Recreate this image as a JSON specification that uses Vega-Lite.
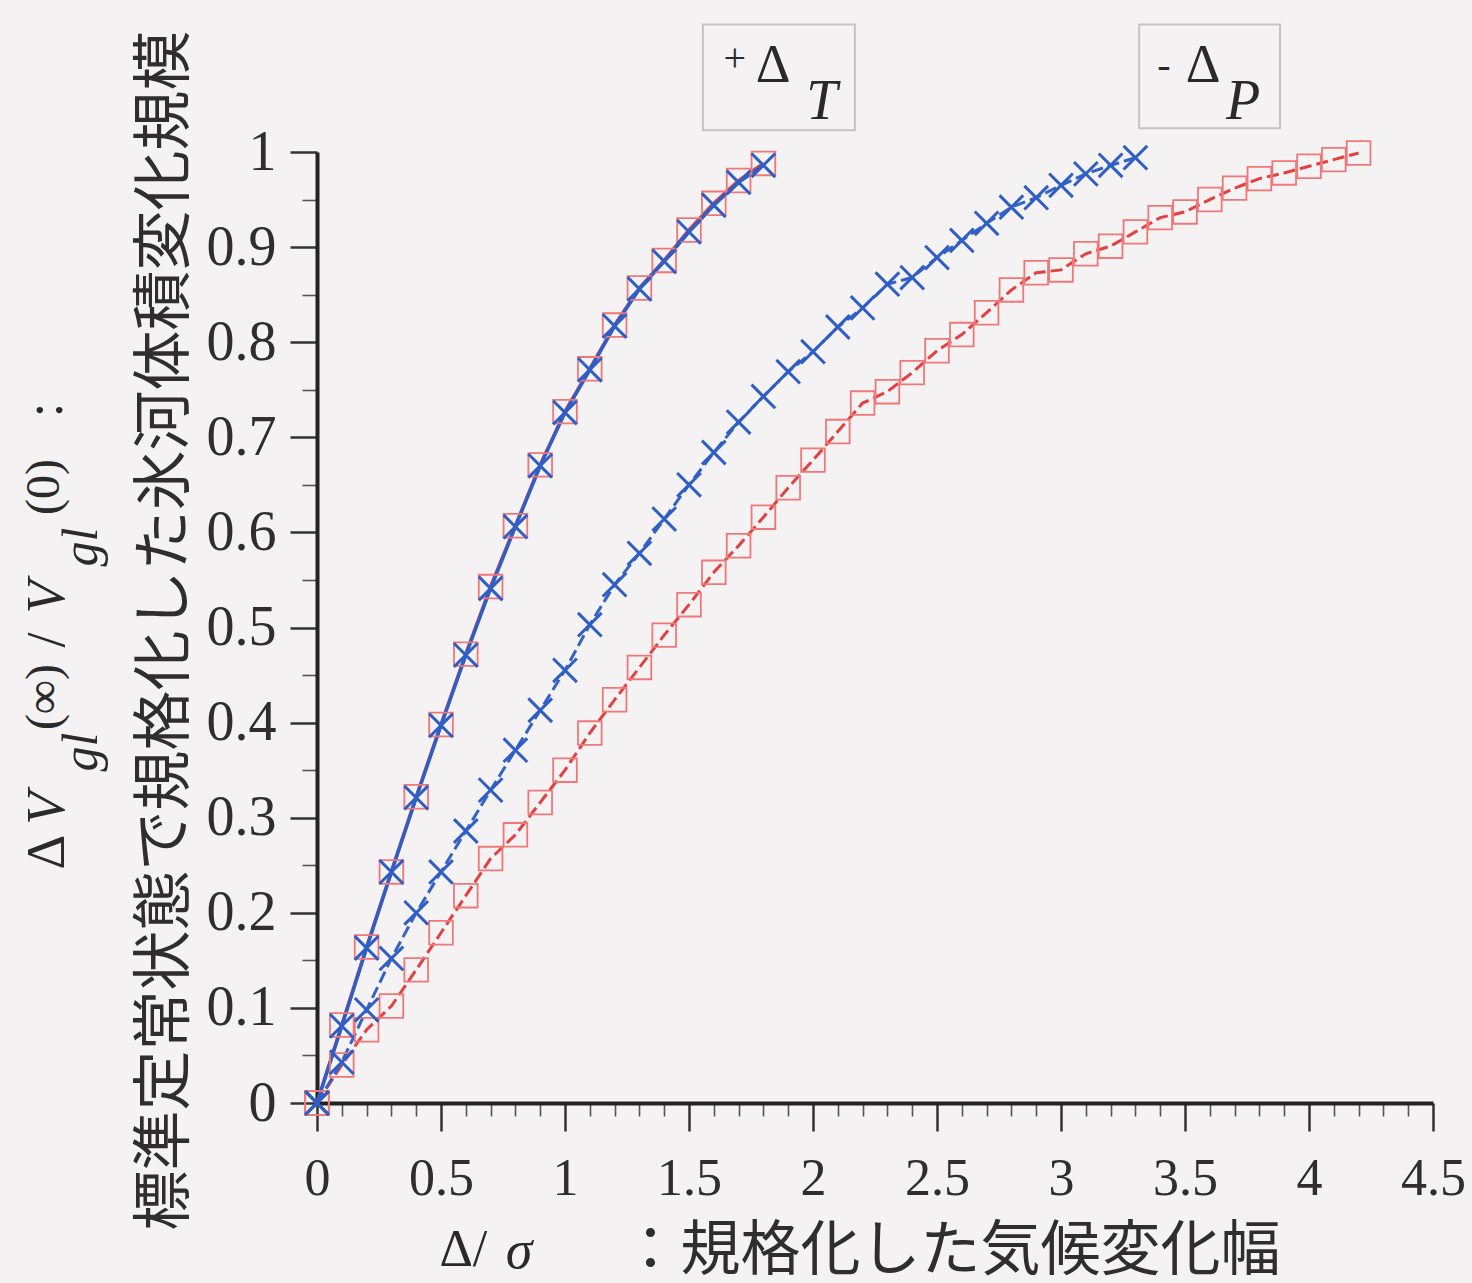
{
  "$schema": "https://vega.github.io/schema/vega-lite/v6.json",
  "autosize": {"type": "none"},
  "width": 1116,
  "height": 951,
  "padding": {"left": 317, "top": 152, "right": 39, "bottom": 180},
  "background": "#f4f2f3",
  "config": {"view": {"stroke": null}},
  "datasets": {
    "curves": [
      {"forcing": "+ΔT", "series": "A", "x": 0, "y": 0},
      {"forcing": "+ΔT", "series": "A", "x": 0.1, "y": 0.082},
      {"forcing": "+ΔT", "series": "A", "x": 0.2, "y": 0.164},
      {"forcing": "+ΔT", "series": "A", "x": 0.3, "y": 0.243},
      {"forcing": "+ΔT", "series": "A", "x": 0.4, "y": 0.322},
      {"forcing": "+ΔT", "series": "A", "x": 0.5, "y": 0.398},
      {"forcing": "+ΔT", "series": "A", "x": 0.6, "y": 0.472},
      {"forcing": "+ΔT", "series": "A", "x": 0.7, "y": 0.543},
      {"forcing": "+ΔT", "series": "A", "x": 0.8, "y": 0.607},
      {"forcing": "+ΔT", "series": "A", "x": 0.9, "y": 0.671},
      {"forcing": "+ΔT", "series": "A", "x": 1.0, "y": 0.727},
      {"forcing": "+ΔT", "series": "A", "x": 1.1, "y": 0.772},
      {"forcing": "+ΔT", "series": "A", "x": 1.2, "y": 0.818},
      {"forcing": "+ΔT", "series": "A", "x": 1.3, "y": 0.857},
      {"forcing": "+ΔT", "series": "A", "x": 1.4, "y": 0.886},
      {"forcing": "+ΔT", "series": "A", "x": 1.5, "y": 0.918},
      {"forcing": "+ΔT", "series": "A", "x": 1.6, "y": 0.946},
      {"forcing": "+ΔT", "series": "A", "x": 1.7, "y": 0.970},
      {"forcing": "+ΔT", "series": "A", "x": 1.8, "y": 0.988},
      {"forcing": "+ΔT", "series": "B", "x": 0, "y": 0},
      {"forcing": "+ΔT", "series": "B", "x": 0.1, "y": 0.081},
      {"forcing": "+ΔT", "series": "B", "x": 0.2, "y": 0.163},
      {"forcing": "+ΔT", "series": "B", "x": 0.3, "y": 0.243},
      {"forcing": "+ΔT", "series": "B", "x": 0.4, "y": 0.321},
      {"forcing": "+ΔT", "series": "B", "x": 0.5, "y": 0.397},
      {"forcing": "+ΔT", "series": "B", "x": 0.6, "y": 0.471},
      {"forcing": "+ΔT", "series": "B", "x": 0.7, "y": 0.541},
      {"forcing": "+ΔT", "series": "B", "x": 0.8, "y": 0.606},
      {"forcing": "+ΔT", "series": "B", "x": 0.9, "y": 0.670},
      {"forcing": "+ΔT", "series": "B", "x": 1.0, "y": 0.726},
      {"forcing": "+ΔT", "series": "B", "x": 1.1, "y": 0.771},
      {"forcing": "+ΔT", "series": "B", "x": 1.2, "y": 0.817},
      {"forcing": "+ΔT", "series": "B", "x": 1.3, "y": 0.856},
      {"forcing": "+ΔT", "series": "B", "x": 1.4, "y": 0.885},
      {"forcing": "+ΔT", "series": "B", "x": 1.5, "y": 0.916},
      {"forcing": "+ΔT", "series": "B", "x": 1.6, "y": 0.944},
      {"forcing": "+ΔT", "series": "B", "x": 1.7, "y": 0.968},
      {"forcing": "+ΔT", "series": "B", "x": 1.8, "y": 0.986},
      {"forcing": "-ΔP", "series": "B", "x": 0, "y": 0},
      {"forcing": "-ΔP", "series": "B", "x": 0.1, "y": 0.043},
      {"forcing": "-ΔP", "series": "B", "x": 0.2, "y": 0.098},
      {"forcing": "-ΔP", "series": "B", "x": 0.3, "y": 0.152},
      {"forcing": "-ΔP", "series": "B", "x": 0.4, "y": 0.200},
      {"forcing": "-ΔP", "series": "B", "x": 0.5, "y": 0.243},
      {"forcing": "-ΔP", "series": "B", "x": 0.6, "y": 0.286},
      {"forcing": "-ΔP", "series": "B", "x": 0.7, "y": 0.329},
      {"forcing": "-ΔP", "series": "B", "x": 0.8, "y": 0.371},
      {"forcing": "-ΔP", "series": "B", "x": 0.9, "y": 0.413},
      {"forcing": "-ΔP", "series": "B", "x": 1.0, "y": 0.455},
      {"forcing": "-ΔP", "series": "B", "x": 1.1, "y": 0.503},
      {"forcing": "-ΔP", "series": "B", "x": 1.2, "y": 0.545},
      {"forcing": "-ΔP", "series": "B", "x": 1.3, "y": 0.578},
      {"forcing": "-ΔP", "series": "B", "x": 1.4, "y": 0.614},
      {"forcing": "-ΔP", "series": "B", "x": 1.5, "y": 0.650},
      {"forcing": "-ΔP", "series": "B", "x": 1.6, "y": 0.684},
      {"forcing": "-ΔP", "series": "B", "x": 1.7, "y": 0.716},
      {"forcing": "-ΔP", "series": "B", "x": 1.8, "y": 0.743},
      {"forcing": "-ΔP", "series": "B", "x": 1.9, "y": 0.769},
      {"forcing": "-ΔP", "series": "B", "x": 2.0, "y": 0.790},
      {"forcing": "-ΔP", "series": "B", "x": 2.1, "y": 0.816},
      {"forcing": "-ΔP", "series": "B", "x": 2.2, "y": 0.836},
      {"forcing": "-ΔP", "series": "B", "x": 2.3, "y": 0.861},
      {"forcing": "-ΔP", "series": "B", "x": 2.4, "y": 0.868},
      {"forcing": "-ΔP", "series": "B", "x": 2.5, "y": 0.889},
      {"forcing": "-ΔP", "series": "B", "x": 2.6, "y": 0.907},
      {"forcing": "-ΔP", "series": "B", "x": 2.7, "y": 0.925},
      {"forcing": "-ΔP", "series": "B", "x": 2.8, "y": 0.942},
      {"forcing": "-ΔP", "series": "B", "x": 2.9, "y": 0.952},
      {"forcing": "-ΔP", "series": "B", "x": 3.0, "y": 0.965},
      {"forcing": "-ΔP", "series": "B", "x": 3.1, "y": 0.977},
      {"forcing": "-ΔP", "series": "B", "x": 3.2, "y": 0.986},
      {"forcing": "-ΔP", "series": "B", "x": 3.3, "y": 0.994},
      {"forcing": "-ΔP", "series": "A", "x": 0, "y": 0},
      {"forcing": "-ΔP", "series": "A", "x": 0.1, "y": 0.040},
      {"forcing": "-ΔP", "series": "A", "x": 0.2, "y": 0.077},
      {"forcing": "-ΔP", "series": "A", "x": 0.3, "y": 0.102},
      {"forcing": "-ΔP", "series": "A", "x": 0.4, "y": 0.140},
      {"forcing": "-ΔP", "series": "A", "x": 0.5, "y": 0.179},
      {"forcing": "-ΔP", "series": "A", "x": 0.6, "y": 0.218},
      {"forcing": "-ΔP", "series": "A", "x": 0.7, "y": 0.257},
      {"forcing": "-ΔP", "series": "A", "x": 0.8, "y": 0.282},
      {"forcing": "-ΔP", "series": "A", "x": 0.9, "y": 0.316},
      {"forcing": "-ΔP", "series": "A", "x": 1.0, "y": 0.350},
      {"forcing": "-ΔP", "series": "A", "x": 1.1, "y": 0.389},
      {"forcing": "-ΔP", "series": "A", "x": 1.2, "y": 0.424},
      {"forcing": "-ΔP", "series": "A", "x": 1.3, "y": 0.458},
      {"forcing": "-ΔP", "series": "A", "x": 1.4, "y": 0.492},
      {"forcing": "-ΔP", "series": "A", "x": 1.5, "y": 0.524},
      {"forcing": "-ΔP", "series": "A", "x": 1.6, "y": 0.558},
      {"forcing": "-ΔP", "series": "A", "x": 1.7, "y": 0.586},
      {"forcing": "-ΔP", "series": "A", "x": 1.8, "y": 0.616},
      {"forcing": "-ΔP", "series": "A", "x": 1.9, "y": 0.647},
      {"forcing": "-ΔP", "series": "A", "x": 2.0, "y": 0.676},
      {"forcing": "-ΔP", "series": "A", "x": 2.1, "y": 0.706},
      {"forcing": "-ΔP", "series": "A", "x": 2.2, "y": 0.736},
      {"forcing": "-ΔP", "series": "A", "x": 2.3, "y": 0.748},
      {"forcing": "-ΔP", "series": "A", "x": 2.4, "y": 0.768},
      {"forcing": "-ΔP", "series": "A", "x": 2.5, "y": 0.791},
      {"forcing": "-ΔP", "series": "A", "x": 2.6, "y": 0.808},
      {"forcing": "-ΔP", "series": "A", "x": 2.7, "y": 0.831},
      {"forcing": "-ΔP", "series": "A", "x": 2.8, "y": 0.855},
      {"forcing": "-ΔP", "series": "A", "x": 2.9, "y": 0.873},
      {"forcing": "-ΔP", "series": "A", "x": 3.0, "y": 0.876},
      {"forcing": "-ΔP", "series": "A", "x": 3.1, "y": 0.893},
      {"forcing": "-ΔP", "series": "A", "x": 3.2, "y": 0.901},
      {"forcing": "-ΔP", "series": "A", "x": 3.3, "y": 0.916},
      {"forcing": "-ΔP", "series": "A", "x": 3.4, "y": 0.931},
      {"forcing": "-ΔP", "series": "A", "x": 3.5, "y": 0.937},
      {"forcing": "-ΔP", "series": "A", "x": 3.6, "y": 0.950},
      {"forcing": "-ΔP", "series": "A", "x": 3.7, "y": 0.962},
      {"forcing": "-ΔP", "series": "A", "x": 3.8, "y": 0.972},
      {"forcing": "-ΔP", "series": "A", "x": 3.9, "y": 0.978},
      {"forcing": "-ΔP", "series": "A", "x": 4.0, "y": 0.985},
      {"forcing": "-ΔP", "series": "A", "x": 4.1, "y": 0.992},
      {"forcing": "-ΔP", "series": "A", "x": 4.2, "y": 0.999}
    ]
  },
  "data": {"name": "curves"},
  "resolve": {"axis": {"x": "independent", "y": "independent"}},
  "layer": [
    {
      "mark": {"type": "point", "opacity": 0},
      "encoding": {
        "x": {"field": "x", "type": "quantitative", "scale": {"domain": [0, 4.5], "nice": false, "zero": false},
          "axis": {"orient": "bottom", "title": null, "labels": false, "domain": false, "grid": false,
            "values": [0.1,0.2,0.3,0.4,0.6,0.7,0.8,0.9,1.1,1.2,1.3,1.4,1.6,1.7,1.8,1.9,2.1,2.2,2.3,2.4,2.6,2.7,2.8,2.9,3.1,3.2,3.3,3.4,3.6,3.7,3.8,3.9,4.1,4.2,4.3,4.4],
            "tickSize": 13, "tickWidth": 1.6, "tickColor": "#555555"}},
        "y": {"field": "y", "type": "quantitative", "scale": {"domain": [0, 1], "nice": false, "zero": false},
          "axis": {"orient": "left", "title": null, "labels": false, "domain": false, "grid": false,
            "values": [0.05,0.15,0.25,0.35,0.45,0.55,0.65,0.75,0.85,0.95],
            "tickSize": 15, "tickWidth": 1.6, "tickColor": "#555555"}}
      }
    },
    {
      "transform": [{"filter": "datum.forcing === '-ΔP' && datum.series === 'A'"}],
      "mark": {"type": "line", "color": "#e4403f", "strokeWidth": 3, "strokeDash": [12, 5]},
      "encoding": {
        "x": {"field": "x", "type": "quantitative", "scale": {"domain": [0, 4.5], "nice": false, "zero": false},
          "axis": {"orient": "bottom", "title": "：規格化した気候変化幅", "grid": false,
            "values": [0, 0.5, 1, 1.5, 2, 2.5, 3, 3.5, 4, 4.5], "format": "~g",
            "domainColor": "#222222", "domainWidth": 4, "tickColor": "#333333", "tickSize": 28, "tickWidth": 2.5,
            "labelFont": "Liberation Serif", "labelFontSize": 52, "labelColor": "#2e2e2e", "labelPadding": 22,
            "labelFlush": false, "labelOverlap": false, "labelBound": false,
            "titleFont": "Noto Sans CJK JP", "titleFontSize": 60, "titleFontWeight": "normal", "titleColor": "#2e2e2e",
            "titleX": 633, "titleY": 148, "titleAlign": "center", "titleBaseline": "middle", "titleAnchor": null}},
        "y": {"field": "y", "type": "quantitative", "scale": {"domain": [0, 1], "nice": false, "zero": false},
          "axis": {"orient": "left", "title": "標準定常状態で規格化した氷河体積変化規模", "grid": false,
            "values": [0, 0.1, 0.2, 0.3, 0.4, 0.5, 0.6, 0.7, 0.8, 0.9, 1], "format": "~g",
            "domainColor": "#222222", "domainWidth": 4, "tickColor": "#333333", "tickSize": 27, "tickWidth": 2.5,
            "labelFont": "Liberation Serif", "labelFontSize": 56, "labelColor": "#2e2e2e", "labelPadding": 14,
            "labelFlush": false, "labelOverlap": false, "labelBound": false,
            "titleFont": "Noto Sans CJK JP", "titleFontSize": 60, "titleFontWeight": "normal", "titleColor": "#2e2e2e",
            "titleX": -152, "titleY": 478, "titleAngle": 270, "titleAlign": "center", "titleBaseline": "middle", "titleAnchor": null}}
      }
    },
    {
      "transform": [{"filter": "datum.forcing === '-ΔP' && datum.series === 'B'"}],
      "mark": {"type": "line", "color": "#3462c6", "strokeWidth": 3, "strokeDash": [12, 5]},
      "encoding": {
        "x": {"field": "x", "type": "quantitative", "axis": null},
        "y": {"field": "y", "type": "quantitative", "axis": null}
      }
    },
    {
      "transform": [{"filter": "datum.forcing === '+ΔT' && datum.series === 'A'"}],
      "mark": {"type": "line", "color": "#e4403f", "strokeWidth": 3.5},
      "encoding": {
        "x": {"field": "x", "type": "quantitative", "axis": null},
        "y": {"field": "y", "type": "quantitative", "axis": null}
      }
    },
    {
      "transform": [{"filter": "datum.forcing === '+ΔT' && datum.series === 'B'"}],
      "mark": {"type": "line", "color": "#2f5ec6", "strokeWidth": 3.5},
      "encoding": {
        "x": {"field": "x", "type": "quantitative", "axis": null},
        "y": {"field": "y", "type": "quantitative", "axis": null}
      }
    },
    {
      "transform": [{"filter": "datum.series === 'A'"}],
      "mark": {"type": "point", "shape": "square", "size": 560, "filled": false, "stroke": "#f07777", "strokeWidth": 1.8, "opacity": 1},
      "encoding": {
        "x": {"field": "x", "type": "quantitative", "axis": null},
        "y": {"field": "y", "type": "quantitative", "axis": null}
      }
    },
    {
      "transform": [{"filter": "datum.series === 'B'"}],
      "mark": {"type": "point", "shape": "M-1,-1L1,1M1,-1L-1,1", "size": 560, "filled": false, "stroke": "#2f5ec6", "strokeWidth": 3, "opacity": 1},
      "encoding": {
        "x": {"field": "x", "type": "quantitative", "axis": null},
        "y": {"field": "y", "type": "quantitative", "axis": null}
      }
    },
    {
      "data": {"values": [{}]},
      "mark": {"type": "rect", "fill": "transparent", "stroke": "#c4c4c4", "strokeWidth": 2},
      "encoding": {
        "x": {"datum": 1.556, "type": "quantitative", "axis": null},
        "x2": {"datum": 2.169},
        "y": {"datum": 1.023, "type": "quantitative", "axis": null},
        "y2": {"datum": 1.134}
      }
    },
    {
      "data": {"values": [{}]},
      "mark": {"type": "rect", "fill": "transparent", "stroke": "#c4c4c4", "strokeWidth": 2},
      "encoding": {
        "x": {"datum": 3.315, "type": "quantitative", "axis": null},
        "x2": {"datum": 3.883},
        "y": {"datum": 1.025, "type": "quantitative", "axis": null},
        "y2": {"datum": 1.134}
      }
    },
    {
      "data": {"values": [{}]},
      "mark": {"type": "text", "text": "+", "font": "Liberation Serif", "fontSize": 40, "color": "#2a2a2a", "align": "center", "baseline": "middle"},
      "encoding": {"x": {"datum": 1.685, "type": "quantitative", "axis": null}, "y": {"datum": 1.098, "type": "quantitative", "axis": null}}
    },
    {
      "data": {"values": [{}]},
      "mark": {"type": "text", "text": "Δ", "font": "Liberation Serif", "fontSize": 54, "color": "#2a2a2a", "align": "center", "baseline": "middle"},
      "encoding": {"x": {"datum": 1.839, "type": "quantitative", "axis": null}, "y": {"datum": 1.09, "type": "quantitative", "axis": null}}
    },
    {
      "data": {"values": [{}]},
      "mark": {"type": "text", "text": "T", "font": "Liberation Serif", "fontStyle": "italic", "fontSize": 56, "color": "#2a2a2a", "align": "center", "baseline": "middle"},
      "encoding": {"x": {"datum": 2.036, "type": "quantitative", "axis": null}, "y": {"datum": 1.0526, "type": "quantitative", "axis": null}}
    },
    {
      "data": {"values": [{}]},
      "mark": {"type": "text", "text": "-", "font": "Liberation Serif", "fontSize": 40, "color": "#2a2a2a", "align": "center", "baseline": "middle"},
      "encoding": {"x": {"datum": 3.415, "type": "quantitative", "axis": null}, "y": {"datum": 1.09, "type": "quantitative", "axis": null}}
    },
    {
      "data": {"values": [{}]},
      "mark": {"type": "text", "text": "Δ", "font": "Liberation Serif", "fontSize": 54, "color": "#2a2a2a", "align": "center", "baseline": "middle"},
      "encoding": {"x": {"datum": 3.573, "type": "quantitative", "axis": null}, "y": {"datum": 1.09, "type": "quantitative", "axis": null}}
    },
    {
      "data": {"values": [{}]},
      "mark": {"type": "text", "text": "P", "font": "Liberation Serif", "fontStyle": "italic", "fontSize": 56, "color": "#2a2a2a", "align": "center", "baseline": "middle"},
      "encoding": {"x": {"datum": 3.734, "type": "quantitative", "axis": null}, "y": {"datum": 1.0526, "type": "quantitative", "axis": null}}
    },
    {
      "data": {"values": [{}]},
      "mark": {"type": "text", "text": "Δ/", "font": "Liberation Serif", "fontSize": 52, "color": "#2a2a2a", "align": "center", "baseline": "middle"},
      "encoding": {"x": {"datum": 0.59, "type": "quantitative", "axis": null}, "y": {"datum": -0.155, "type": "quantitative", "axis": null}}
    },
    {
      "data": {"values": [{}]},
      "mark": {"type": "text", "text": "σ", "font": "Liberation Serif", "fontStyle": "italic", "fontSize": 54, "color": "#2a2a2a", "align": "center", "baseline": "middle"},
      "encoding": {"x": {"datum": 0.815, "type": "quantitative", "axis": null}, "y": {"datum": -0.157, "type": "quantitative", "axis": null}}
    },
    {
      "data": {"values": [{}]},
      "mark": {"type": "text", "text": "Δ", "angle": 270, "font": "Liberation Serif", "fontSize": 54, "color": "#2a2a2a", "align": "center", "baseline": "middle"},
      "encoding": {"x": {"datum": -1.0847, "type": "quantitative", "axis": null}, "y": {"datum": 0.2639, "type": "quantitative", "axis": null}}
    },
    {
      "data": {"values": [{}]},
      "mark": {"type": "text", "text": "V", "angle": 270, "font": "Liberation Serif", "fontStyle": "italic", "fontSize": 54, "color": "#2a2a2a", "align": "center", "baseline": "middle"},
      "encoding": {"x": {"datum": -1.0847, "type": "quantitative", "axis": null}, "y": {"datum": 0.31, "type": "quantitative", "axis": null}}
    },
    {
      "data": {"values": [{}]},
      "mark": {"type": "text", "text": "gl", "angle": 270, "font": "Liberation Serif", "fontStyle": "italic", "fontSize": 50, "color": "#2a2a2a", "align": "center", "baseline": "middle"},
      "encoding": {"x": {"datum": -0.9476, "type": "quantitative", "axis": null}, "y": {"datum": 0.3691, "type": "quantitative", "axis": null}}
    },
    {
      "data": {"values": [{}]},
      "mark": {"type": "text", "text": "(∞)", "angle": 270, "font": "Liberation Serif", "fontSize": 48, "color": "#2a2a2a", "align": "center", "baseline": "middle"},
      "encoding": {"x": {"datum": -1.0968, "type": "quantitative", "axis": null}, "y": {"datum": 0.4269, "type": "quantitative", "axis": null}}
    },
    {
      "data": {"values": [{}]},
      "mark": {"type": "text", "text": "/", "angle": 270, "font": "Liberation Serif", "fontSize": 54, "color": "#2a2a2a", "align": "center", "baseline": "middle"},
      "encoding": {"x": {"datum": -1.0847, "type": "quantitative", "axis": null}, "y": {"datum": 0.4869, "type": "quantitative", "axis": null}}
    },
    {
      "data": {"values": [{}]},
      "mark": {"type": "text", "text": "V", "angle": 270, "font": "Liberation Serif", "fontStyle": "italic", "fontSize": 54, "color": "#2a2a2a", "align": "center", "baseline": "middle"},
      "encoding": {"x": {"datum": -1.0847, "type": "quantitative", "axis": null}, "y": {"datum": 0.5321, "type": "quantitative", "axis": null}}
    },
    {
      "data": {"values": [{}]},
      "mark": {"type": "text", "text": "gl", "angle": 270, "font": "Liberation Serif", "fontStyle": "italic", "fontSize": 50, "color": "#2a2a2a", "align": "center", "baseline": "middle"},
      "encoding": {"x": {"datum": -0.9476, "type": "quantitative", "axis": null}, "y": {"datum": 0.5846, "type": "quantitative", "axis": null}}
    },
    {
      "data": {"values": [{}]},
      "mark": {"type": "text", "text": "(0)", "angle": 270, "font": "Liberation Serif", "fontSize": 48, "color": "#2a2a2a", "align": "center", "baseline": "middle"},
      "encoding": {"x": {"datum": -1.0968, "type": "quantitative", "axis": null}, "y": {"datum": 0.6477, "type": "quantitative", "axis": null}}
    },
    {
      "data": {"values": [{}]},
      "mark": {"type": "text", "text": ":", "angle": 270, "font": "Liberation Serif", "fontSize": 54, "color": "#2a2a2a", "align": "center", "baseline": "middle"},
      "encoding": {"x": {"datum": -1.0927, "type": "quantitative", "axis": null}, "y": {"datum": 0.7287, "type": "quantitative", "axis": null}}
    }
  ]
}
